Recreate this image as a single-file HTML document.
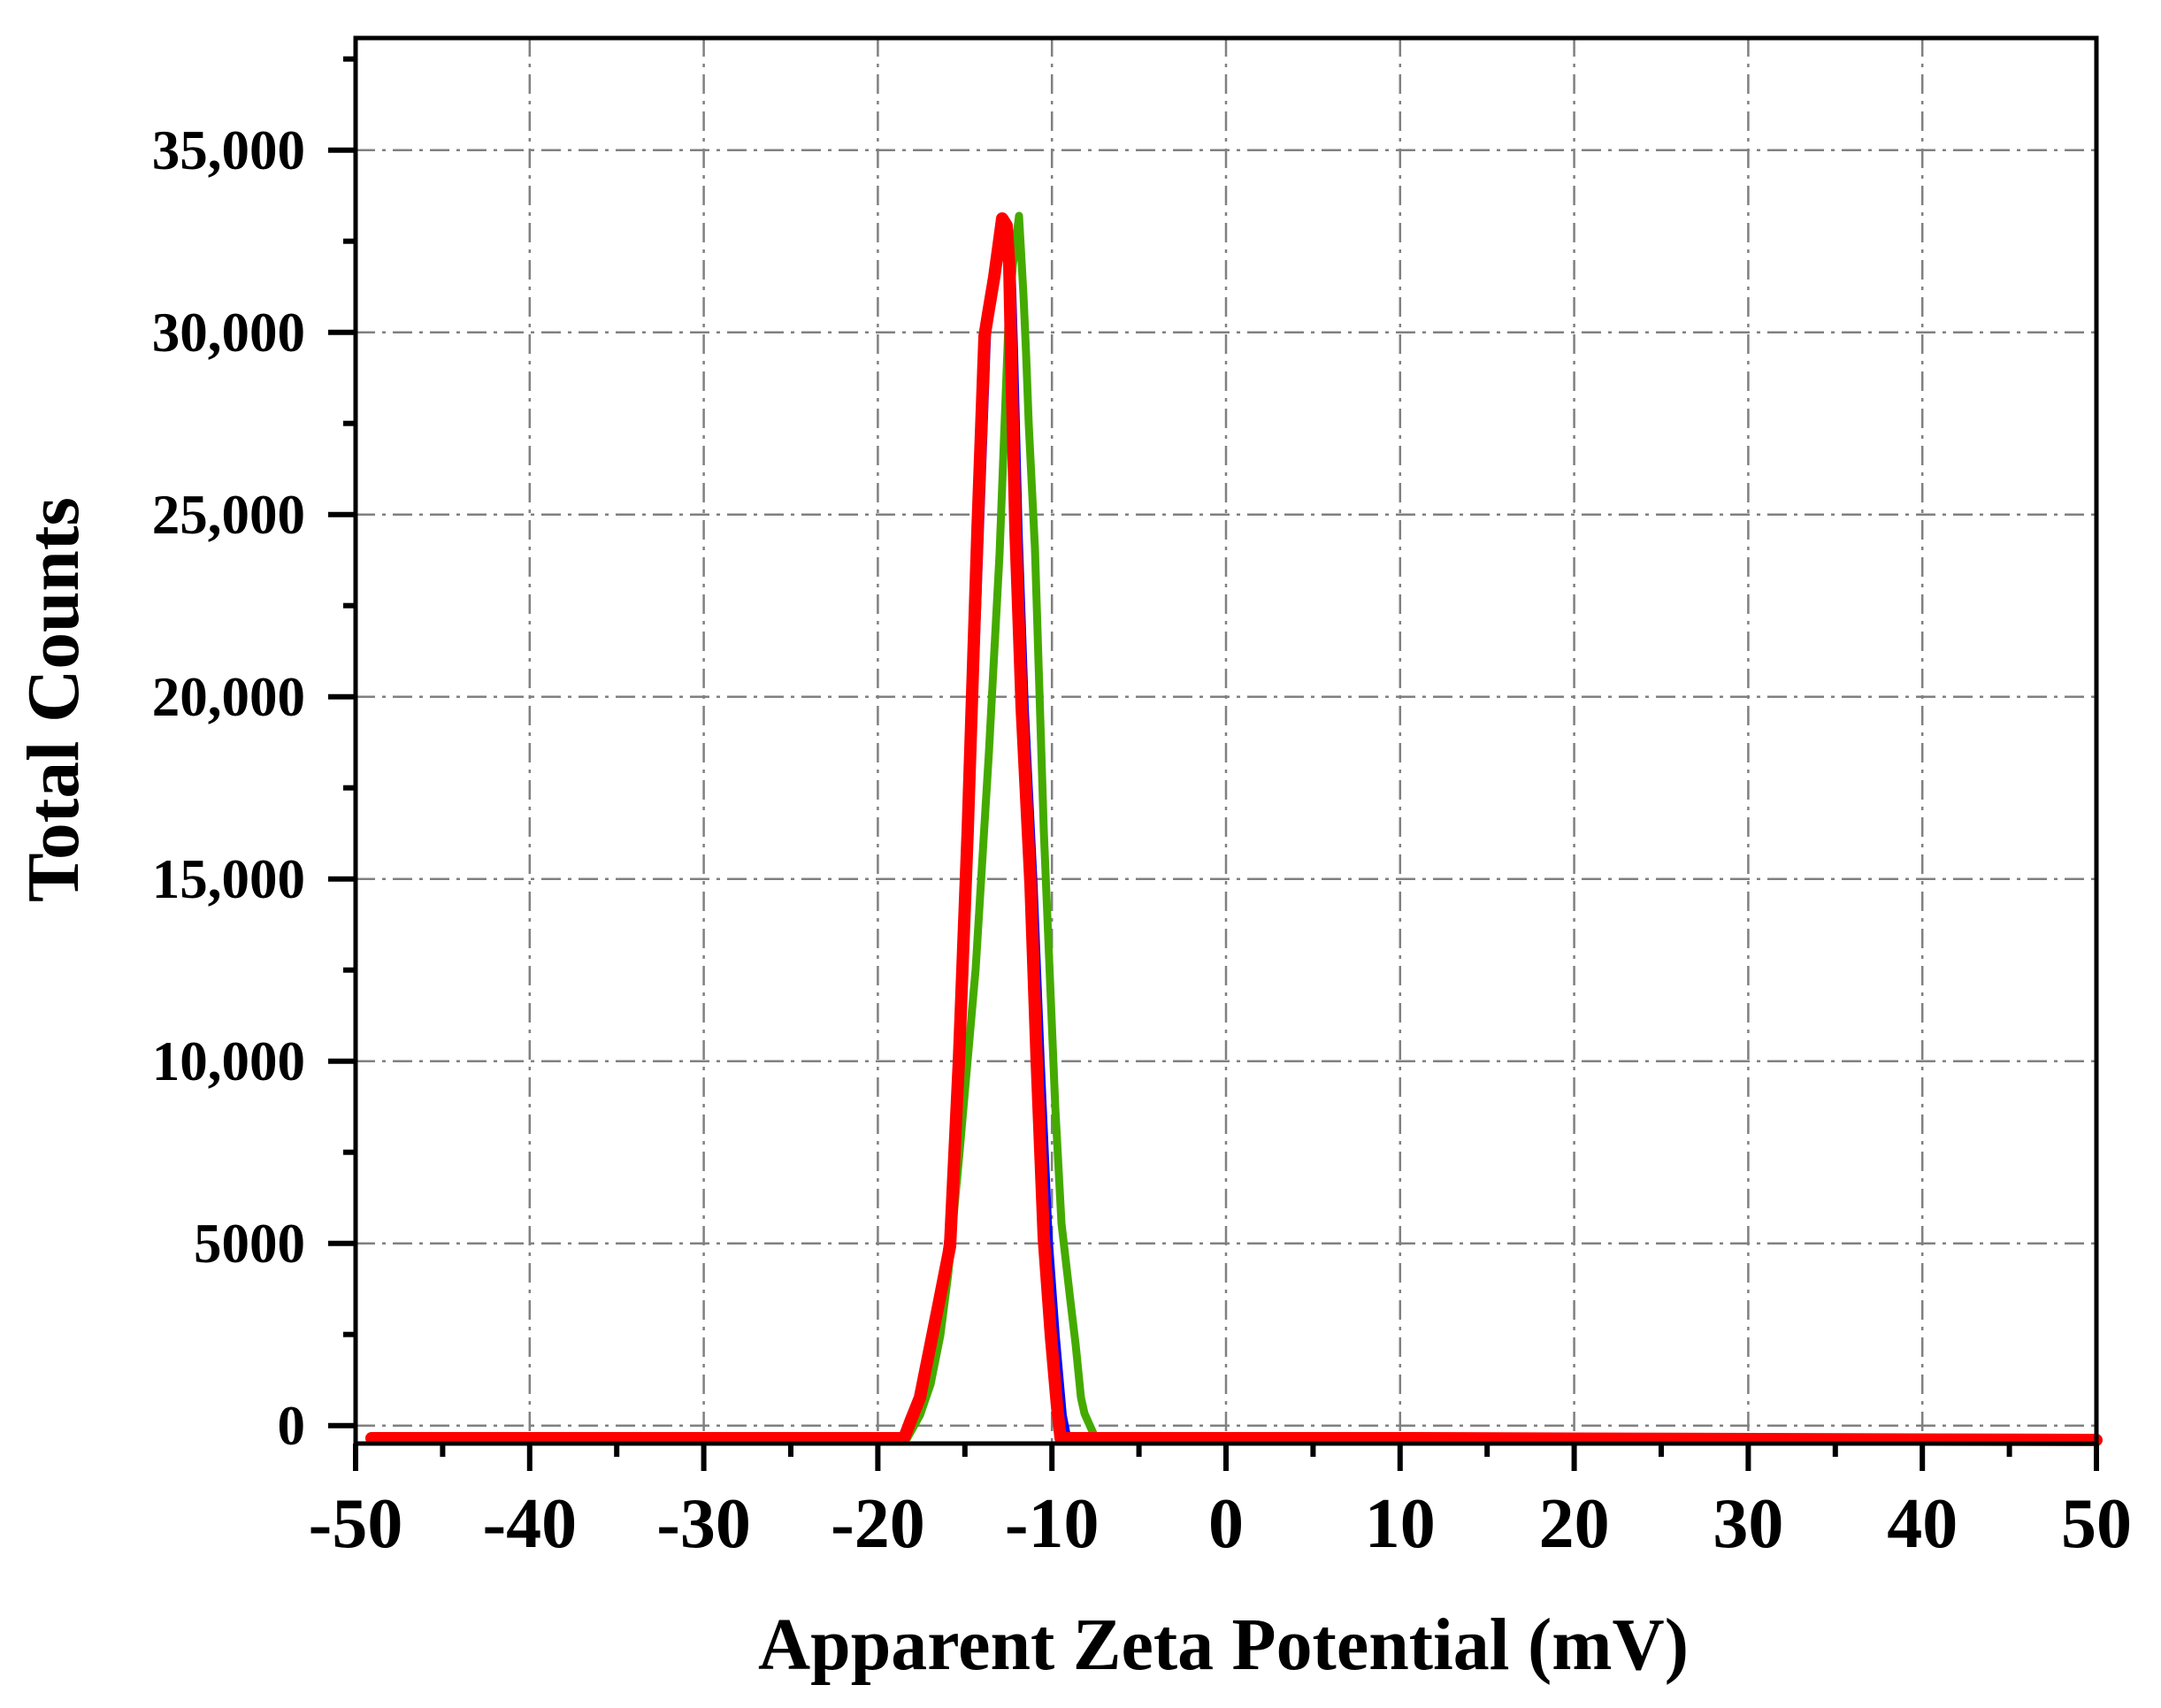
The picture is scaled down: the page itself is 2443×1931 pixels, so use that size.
<!DOCTYPE html>
<html><head><meta charset="utf-8"><style>
html,body{margin:0;padding:0;background:#fff;}
svg{display:block;}
text{font-family:"Liberation Serif",serif;font-weight:bold;fill:#000;}
</style></head><body>
<svg width="2443" height="1931" viewBox="0 0 2443 1931" xmlns="http://www.w3.org/2000/svg">
<g stroke="#808080" stroke-width="2.5" stroke-dasharray="22,8,4,8" fill="none">
<line x1="598.8" y1="42" x2="598.8" y2="1632"/>
<line x1="795.6" y1="42" x2="795.6" y2="1632"/>
<line x1="992.4" y1="42" x2="992.4" y2="1632"/>
<line x1="1189.2" y1="42" x2="1189.2" y2="1632"/>
<line x1="1386" y1="42" x2="1386" y2="1632"/>
<line x1="1582.8" y1="42" x2="1582.8" y2="1632"/>
<line x1="1779.6" y1="42" x2="1779.6" y2="1632"/>
<line x1="1976.4" y1="42" x2="1976.4" y2="1632"/>
<line x1="2173.2" y1="42" x2="2173.2" y2="1632"/>
<line x1="402" y1="1611.7" x2="2370" y2="1611.7"/>
<line x1="402" y1="1405.7" x2="2370" y2="1405.7"/>
<line x1="402" y1="1199.7" x2="2370" y2="1199.7"/>
<line x1="402" y1="993.7" x2="2370" y2="993.7"/>
<line x1="402" y1="787.7" x2="2370" y2="787.7"/>
<line x1="402" y1="581.7" x2="2370" y2="581.7"/>
<line x1="402" y1="375.7" x2="2370" y2="375.7"/>
<line x1="402" y1="169.7" x2="2370" y2="169.7"/>
</g>
<polyline fill="none" stroke="#0000ff" stroke-width="6" stroke-linejoin="round" points="1027,1625 1040,1585 1052,1530 1062,1470 1077,1350 1097,939 1118,360 1127,313 1136,250 1144,265 1148,400 1153,600 1160,800 1170,1000 1178,1200 1187,1400 1195,1510 1203,1600 1208,1625"/>
<polyline fill="none" stroke="#44aa00" stroke-width="9" stroke-linejoin="round" points="1025,1627 1040,1600 1052,1565 1063,1510 1072,1440 1085,1300 1103,1095 1118,850 1130,626 1140,367 1145,300 1152,244 1157,333 1160,400 1163,480 1170,620 1180,939 1193,1252 1200,1383 1210,1470 1216,1520 1222,1580 1226,1598 1238,1625"/>
<polyline fill="none" stroke="#ff0000" stroke-width="14" stroke-linecap="round" stroke-linejoin="round" points="420,1626 1022,1626 1030,1605 1040,1580 1050,1530 1060,1480 1074,1409 1084,1200 1094,939 1105,600 1113,380 1117,355 1124,313 1133,247 1138,255 1141,300 1143,400 1148,600 1155,800 1165,1000 1172,1200 1180,1400 1188,1510 1195,1590 1199,1626 1600,1626 2370,1628"/>
<g stroke="#000" stroke-width="5" fill="none">
<rect x="402" y="43" width="1968" height="1589"/>
</g>
<g stroke="#000" stroke-width="6">
<line x1="402" y1="1632" x2="402" y2="1663"/>
<line x1="598.8" y1="1632" x2="598.8" y2="1663"/>
<line x1="795.6" y1="1632" x2="795.6" y2="1663"/>
<line x1="992.4" y1="1632" x2="992.4" y2="1663"/>
<line x1="1189.2" y1="1632" x2="1189.2" y2="1663"/>
<line x1="1386" y1="1632" x2="1386" y2="1663"/>
<line x1="1582.8" y1="1632" x2="1582.8" y2="1663"/>
<line x1="1779.6" y1="1632" x2="1779.6" y2="1663"/>
<line x1="1976.4" y1="1632" x2="1976.4" y2="1663"/>
<line x1="2173.2" y1="1632" x2="2173.2" y2="1663"/>
<line x1="2370" y1="1632" x2="2370" y2="1663"/>
<line x1="500.4" y1="1632" x2="500.4" y2="1647"/>
<line x1="697.2" y1="1632" x2="697.2" y2="1647"/>
<line x1="894" y1="1632" x2="894" y2="1647"/>
<line x1="1090.8" y1="1632" x2="1090.8" y2="1647"/>
<line x1="1287.6" y1="1632" x2="1287.6" y2="1647"/>
<line x1="1484.4" y1="1632" x2="1484.4" y2="1647"/>
<line x1="1681.2" y1="1632" x2="1681.2" y2="1647"/>
<line x1="1878" y1="1632" x2="1878" y2="1647"/>
<line x1="2074.8" y1="1632" x2="2074.8" y2="1647"/>
<line x1="2271.6" y1="1632" x2="2271.6" y2="1647"/>
<line x1="371" y1="1611.7" x2="402" y2="1611.7"/>
<line x1="371" y1="1405.7" x2="402" y2="1405.7"/>
<line x1="371" y1="1199.7" x2="402" y2="1199.7"/>
<line x1="371" y1="993.7" x2="402" y2="993.7"/>
<line x1="371" y1="787.7" x2="402" y2="787.7"/>
<line x1="371" y1="581.7" x2="402" y2="581.7"/>
<line x1="371" y1="375.7" x2="402" y2="375.7"/>
<line x1="371" y1="169.7" x2="402" y2="169.7"/>
<line x1="388" y1="1508.7" x2="402" y2="1508.7"/>
<line x1="388" y1="1302.7" x2="402" y2="1302.7"/>
<line x1="388" y1="1096.7" x2="402" y2="1096.7"/>
<line x1="388" y1="890.7" x2="402" y2="890.7"/>
<line x1="388" y1="684.7" x2="402" y2="684.7"/>
<line x1="388" y1="478.7" x2="402" y2="478.7"/>
<line x1="388" y1="272.7" x2="402" y2="272.7"/>
<line x1="388" y1="66.7" x2="402" y2="66.7"/>
</g>
<g font-size="63" text-anchor="end">
<text x="345" y="1633">0</text>
<text x="345" y="1427">5000</text>
<text x="345" y="1221">10,000</text>
<text x="345" y="1015">15,000</text>
<text x="345" y="809">20,000</text>
<text x="345" y="603">25,000</text>
<text x="345" y="397">30,000</text>
<text x="345" y="191">35,000</text>
</g>
<g font-size="80" text-anchor="middle">
<text x="402" y="1749">-50</text>
<text x="598.8" y="1749">-40</text>
<text x="795.6" y="1749">-30</text>
<text x="992.4" y="1749">-20</text>
<text x="1189.2" y="1749">-10</text>
<text x="1386" y="1749">0</text>
<text x="1582.8" y="1749">10</text>
<text x="1779.6" y="1749">20</text>
<text x="1976.4" y="1749">30</text>
<text x="2173.2" y="1749">40</text>
<text x="2370" y="1749">50</text>
</g>
<text x="857" y="1887" font-size="84" textLength="1052" lengthAdjust="spacingAndGlyphs">Apparent Zeta Potential (mV)</text>
<text transform="translate(88,1020) rotate(-90)" font-size="84" textLength="458" lengthAdjust="spacingAndGlyphs">Total Counts</text>
</svg>
</body></html>
